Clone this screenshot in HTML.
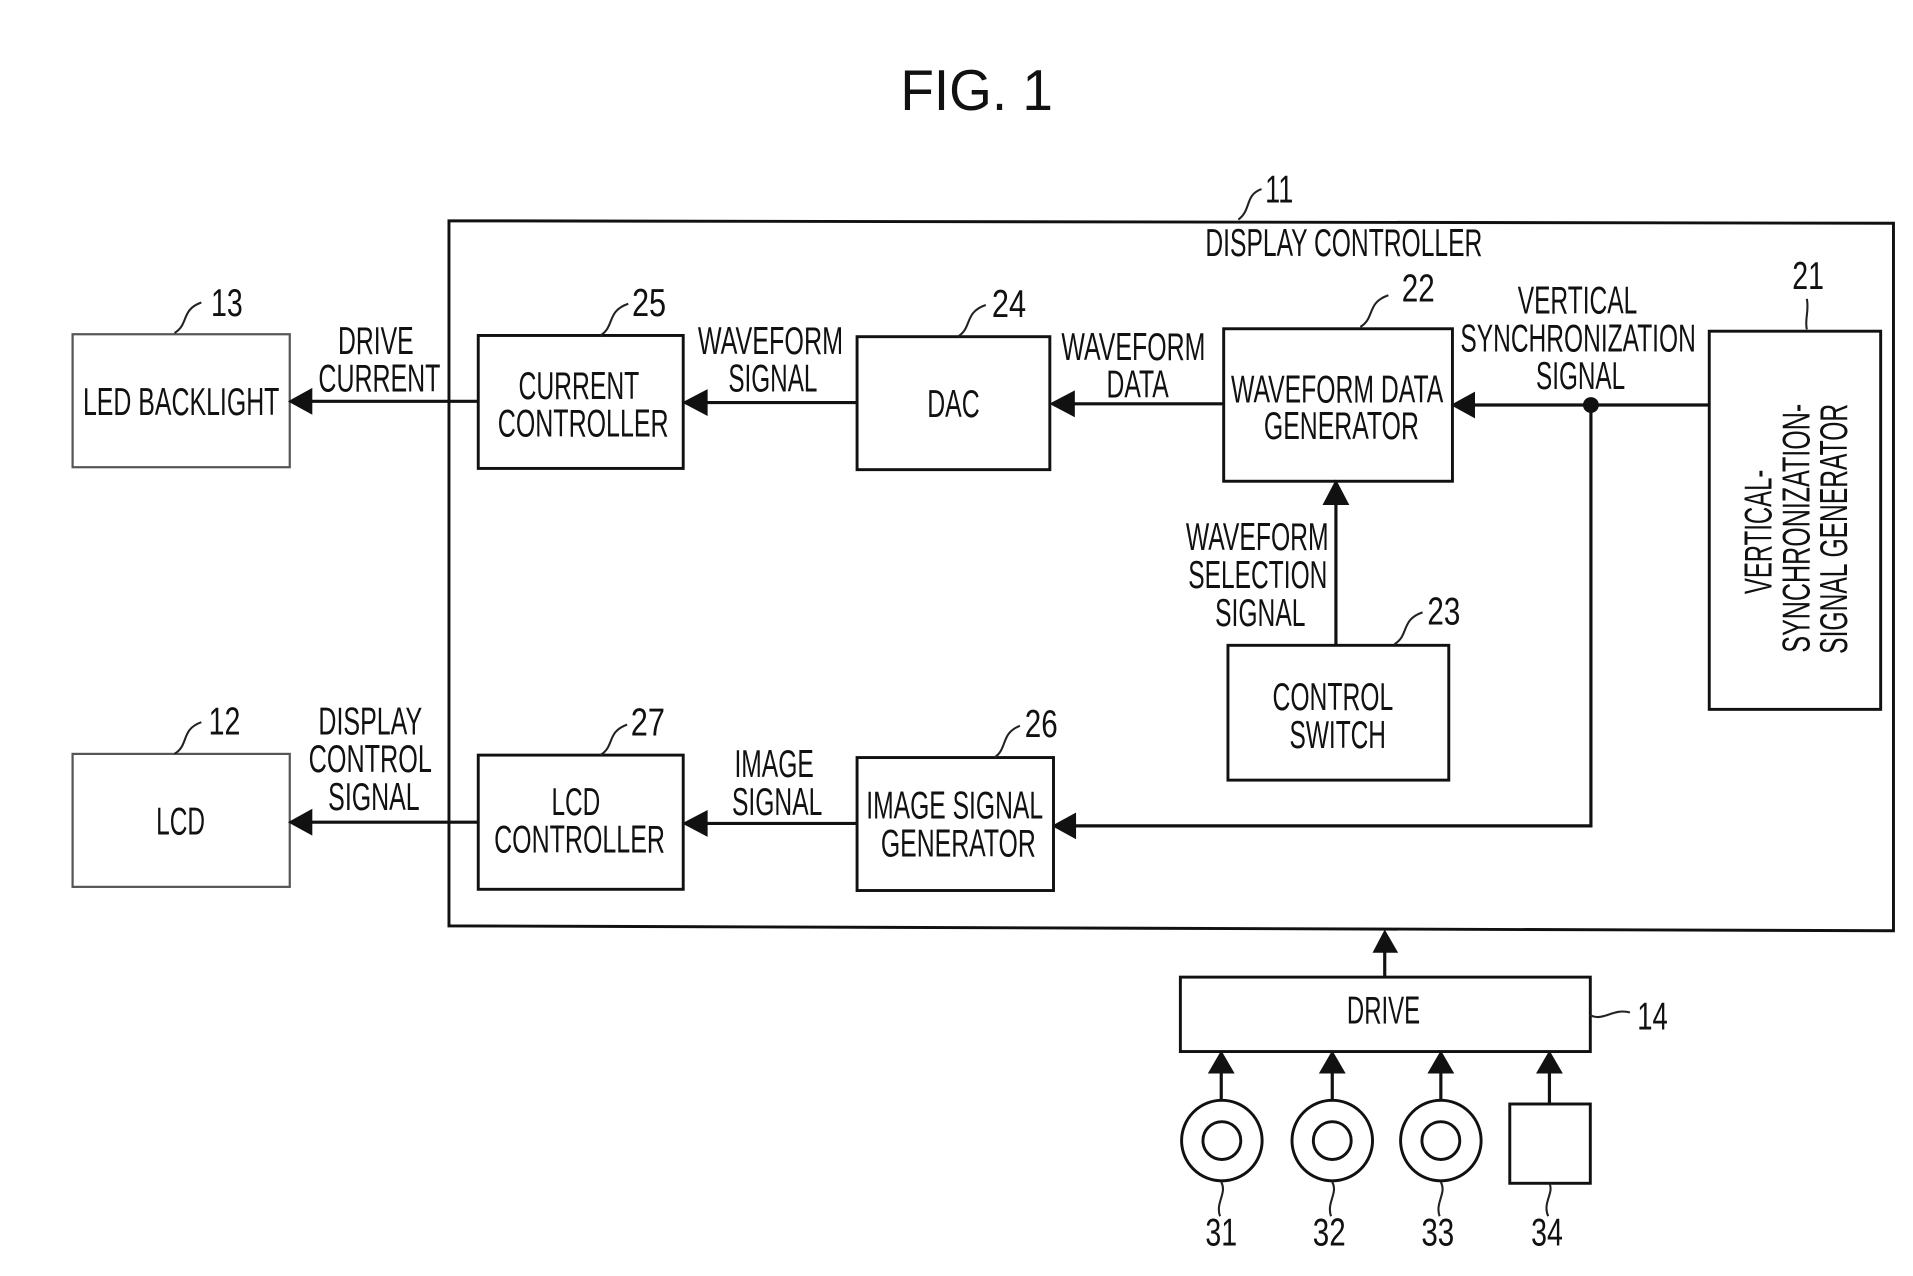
<!DOCTYPE html>
<html><head><meta charset="utf-8"><style>
html,body{margin:0;padding:0;background:#fff;width:1913px;height:1276px;overflow:hidden}
svg{display:block}
text{font-family:"Liberation Sans",sans-serif;font-size:32px;fill:#111}
.b{fill:#fff;stroke:#111;stroke-width:2.4}
.l{fill:none;stroke:#111;stroke-width:2.6}
.t{fill:none;stroke:#222;stroke-width:1.7}
</style></head><body>
<svg width="1913" height="1276" viewBox="0 0 1568 1046" preserveAspectRatio="none" xmlns="http://www.w3.org/2000/svg">
<text x="738" y="90" style="font-size:47px" textLength="125" lengthAdjust="spacingAndGlyphs">FIG. 1</text>

<path class="b" d="M368 181L1552 183V763L368 759Z"/>
<rect x="59.500" y="274" width="178" height="109" fill="#fff" stroke="#555" stroke-width="1.800"/>
<rect x="59.500" y="618" width="178" height="109" fill="#fff" stroke="#555" stroke-width="1.800"/>
<rect class="b" x="392" y="275" width="168" height="109"/>
<rect class="b" x="702.500" y="276" width="158" height="109"/>
<rect class="b" x="1003" y="269.500" width="187.500" height="125"/>
<rect class="b" x="1401" y="271.500" width="140.500" height="310"/>
<rect class="b" x="1006.500" y="529" width="181" height="110.500"/>
<rect class="b" x="392" y="619" width="168" height="110"/>
<rect class="b" x="702.500" y="621" width="161" height="109"/>
<rect class="b" x="967.500" y="801" width="336" height="61"/>
<rect class="b" x="1237.500" y="905" width="66" height="65"/>
<circle class="b" cx="1001.500" cy="935" r="33"/><circle class="b" cx="1001.500" cy="935" r="15.500"/>
<circle class="b" cx="1092" cy="935" r="33"/><circle class="b" cx="1092" cy="935" r="15.500"/>
<circle class="b" cx="1181" cy="935" r="33"/><circle class="b" cx="1181" cy="935" r="15.500"/>

<path class="l" d="M392 329H250M702 330H575M1003 331H876M1401 332H1205M1304 332V677H878M702 675H575M392 674H250M1095 529V410M1135 801V778M1001 902V876M1092 902V876M1181 902V876M1270 905V876"/>
<circle cx="1304" cy="332" r="6.500" fill="#111"/>
<g fill="#111">
<path d="M236 329L256 318V340Z"/><path d="M559 330L580 319V341Z"/><path d="M860 331L881 320V342Z"/><path d="M1189 332L1209 321V343Z"/>
<path d="M862 677L882 666V688Z"/><path d="M559 675L580 664V686Z"/><path d="M236 674L256 663V685Z"/>
<path d="M1095 393L1084 414H1106Z"/><path d="M1135 762L1125 781H1146Z"/>
<path d="M1001 861L990 880H1012Z"/><path d="M1092 861L1081 880H1103Z"/><path d="M1181 861L1170 880H1192Z"/><path d="M1270 861L1259 880H1281Z"/>
</g>

<path class="t" d="M143 273C155 266 148 254 165 248M492 275C504 268 497 255 515 249M785 276C797 269 790 256 808 250M1115 268C1127 261 1120 248 1138 242M1015 180C1026 172 1020 160 1034 155M1143 528C1155 521 1148 508 1166 502M492 619C504 612 497 600 514 594M815 621C826 614 820 601 836 595M143 618C155 611 148 598 165 592M1481 270C1479 262 1483 255 1481 245M1303 832C1314 838 1322 826 1336 830M1001 969C1006 978 996 986 1000 997M1092 969C1097 978 1087 986 1091 997M1181 969C1186 978 1176 986 1180 997M1270 970C1274 978 1264 986 1269 997"/>

<g transform="translate(0,-1)">
<text x="277" y="291" textLength="62" lengthAdjust="spacingAndGlyphs">DRIVE</text>
<text x="261" y="322" textLength="100" lengthAdjust="spacingAndGlyphs">CURRENT</text>
<text x="68" y="341" textLength="161" lengthAdjust="spacingAndGlyphs">LED BACKLIGHT</text>
<text x="425" y="328" textLength="99" lengthAdjust="spacingAndGlyphs">CURRENT</text>
<text x="408" y="359" textLength="140" lengthAdjust="spacingAndGlyphs">CONTROLLER</text>
<text x="572" y="291" textLength="119" lengthAdjust="spacingAndGlyphs">WAVEFORM</text>
<text x="597" y="322" textLength="73" lengthAdjust="spacingAndGlyphs">SIGNAL</text>
<text x="760" y="343" textLength="43" lengthAdjust="spacingAndGlyphs">DAC</text>
<text x="870" y="296" textLength="118" lengthAdjust="spacingAndGlyphs">WAVEFORM</text>
<text x="907" y="327" textLength="51" lengthAdjust="spacingAndGlyphs">DATA</text>
<text x="1009" y="331" textLength="174" lengthAdjust="spacingAndGlyphs">WAVEFORM DATA</text>
<text x="1036" y="361" textLength="127" lengthAdjust="spacingAndGlyphs">GENERATOR</text>
<text x="1244" y="258" textLength="98" lengthAdjust="spacingAndGlyphs">VERTICAL</text>
<text x="1197" y="289" textLength="193" lengthAdjust="spacingAndGlyphs">SYNCHRONIZATION</text>
<text x="1259" y="320" textLength="73" lengthAdjust="spacingAndGlyphs">SIGNAL</text>
<text x="988" y="211" textLength="227" lengthAdjust="spacingAndGlyphs">DISPLAY CONTROLLER</text>
<text x="972" y="452" textLength="117" lengthAdjust="spacingAndGlyphs">WAVEFORM</text>
<text x="974" y="483" textLength="114" lengthAdjust="spacingAndGlyphs">SELECTION</text>
<text x="996" y="514" textLength="74" lengthAdjust="spacingAndGlyphs">SIGNAL</text>
<text x="1043" y="583" textLength="99" lengthAdjust="spacingAndGlyphs">CONTROL</text>
<text x="1057" y="614" textLength="79" lengthAdjust="spacingAndGlyphs">SWITCH</text>
<text x="261" y="603" textLength="85" lengthAdjust="spacingAndGlyphs">DISPLAY</text>
<text x="253" y="634" textLength="101" lengthAdjust="spacingAndGlyphs">CONTROL</text>
<text x="269" y="665" textLength="75" lengthAdjust="spacingAndGlyphs">SIGNAL</text>
<text x="128" y="685" textLength="40" lengthAdjust="spacingAndGlyphs">LCD</text>
<text x="452" y="669" textLength="40" lengthAdjust="spacingAndGlyphs">LCD</text>
<text x="405" y="700" textLength="140" lengthAdjust="spacingAndGlyphs">CONTROLLER</text>
<text x="602" y="638" textLength="65" lengthAdjust="spacingAndGlyphs">IMAGE</text>
<text x="600" y="669" textLength="74" lengthAdjust="spacingAndGlyphs">SIGNAL</text>
<text x="710" y="672" textLength="145" lengthAdjust="spacingAndGlyphs">IMAGE SIGNAL</text>
<text x="722" y="703" textLength="127" lengthAdjust="spacingAndGlyphs">GENERATOR</text>
<text x="1104" y="840" textLength="60" lengthAdjust="spacingAndGlyphs">DRIVE</text>

<text x="1037" y="167" textLength="23" lengthAdjust="spacingAndGlyphs">11</text>
<text x="1149" y="248" textLength="27" lengthAdjust="spacingAndGlyphs">22</text>
<text x="1469" y="238" textLength="26" lengthAdjust="spacingAndGlyphs">21</text>
<text x="518" y="260" textLength="28" lengthAdjust="spacingAndGlyphs">25</text>
<text x="813" y="261" textLength="28" lengthAdjust="spacingAndGlyphs">24</text>
<text x="173" y="260" textLength="26" lengthAdjust="spacingAndGlyphs">13</text>
<text x="1170" y="513" textLength="27" lengthAdjust="spacingAndGlyphs">23</text>
<text x="171" y="603" textLength="26" lengthAdjust="spacingAndGlyphs">12</text>
<text x="517" y="604" textLength="28" lengthAdjust="spacingAndGlyphs">27</text>
<text x="840" y="605" textLength="27" lengthAdjust="spacingAndGlyphs">26</text>
<text x="1342" y="845" textLength="25" lengthAdjust="spacingAndGlyphs">14</text>
<text x="988" y="1022" textLength="26" lengthAdjust="spacingAndGlyphs">31</text>
<text x="1076" y="1022" textLength="27" lengthAdjust="spacingAndGlyphs">32</text>
<text x="1165" y="1022" textLength="27" lengthAdjust="spacingAndGlyphs">33</text>
<text x="1255" y="1022" textLength="26" lengthAdjust="spacingAndGlyphs">34</text>
</g>

<text transform="translate(1452,487) rotate(-90)" textLength="102" lengthAdjust="spacingAndGlyphs">VERTICAL-</text>
<text transform="translate(1483,535) rotate(-90)" textLength="204" lengthAdjust="spacingAndGlyphs">SYNCHRONIZATION-</text>
<text transform="translate(1514,536) rotate(-90)" textLength="205" lengthAdjust="spacingAndGlyphs">SIGNAL GENERATOR</text>
</svg>
</body></html>
